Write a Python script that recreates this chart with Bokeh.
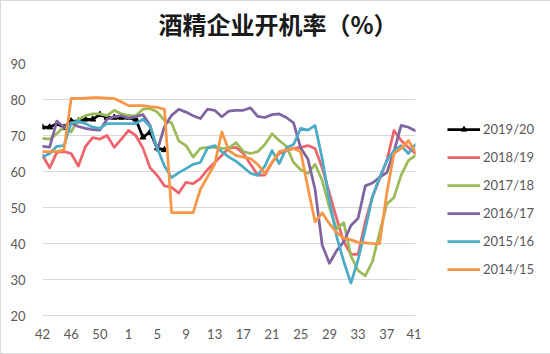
from bokeh.plotting import figure
from bokeh.layouts import row, column
from bokeh.models import Range1d, FixedTicker, Legend, LegendItem, Div
from bokeh.embed import file_html
from bokeh.resources import INLINE

title_text = "酒精企业开机率（%）"

weeks = ["42", "43", "44", "45", "46", "47", "48", "49", "50", "51", "52", "53",
         "1", "2", "3", "4", "5", "6", "7", "8", "9", "10", "11", "12", "13",
         "14", "15", "16", "17", "18", "19", "20", "21", "22", "23", "24", "25",
         "26", "27", "28", "29", "30", "31", "32", "33", "34", "35", "36", "37",
         "38", "39", "40", "41"]
tick_labels = ["42", "46", "50", "1", "5", "9", "13", "17", "21", "25", "29", "33", "37", "41"]
y_ticks = [20, 30, 40, 50, 60, 70, 80, 90]

s2019 = [72.3, 72.3, 73.3, 72.2, 74, 74, 74.5, 74.5, 75.8, 75, 75, 75, 75, 74.5,
         69.5, 71, 66.5, 66]

s2018 = [64.5, 61, 65.3, 65.5, 65, 61.5, 67, 69.4, 69, 70, 66.7, 69, 71.4, 70,
         66.5, 61, 58.9, 56, 55.6, 54, 57, 56.6, 58, 60.5, 62.5, 64.5, 66.5, 66.7,
         65, 62, 59, 59, 62.5, 65, 65.8, 66.4, 66.7, 67.2, 66.4, 61, 54, 47, 40.5,
         37, 37, 46, 53, 58, 63, 71.4, 68.6, 66.7, 65]

s2017 = [69.2, 69, 70.5, 72.5, 71, 74.5, 75.5, 76, 76, 75.5, 77, 76, 75.5, 75.5,
         77.3, 77.5, 76.5, 74.2, 73.5, 68.5, 67.2, 64, 66.4, 66.7, 66.7, 66.4, 66.5,
         68, 65.5, 65, 65.5, 67.5, 70.5, 68.6, 67, 62.5, 60.5, 59.5, 62, 57.5, 50,
         44, 45.8, 36.5, 32.5, 31, 35, 43, 51, 52.8, 59, 63, 64.5]

s2016 = [67, 66.8, 74, 72.2, 73.5, 72.5, 72, 71.6, 71.5, 74.5, 75.2, 75.5, 74.8,
         75.2, 75.8, 72.8, 65.8, 72.5, 75.6, 77.3, 76.5, 75.5, 74.7, 77.3, 77, 75.2,
         76.8, 77, 77, 77.7, 75.3, 75, 75.8, 76, 75, 73.5, 66.5, 63.5, 55, 39.5,
         34.5, 38, 40.5, 45, 47, 56, 56.8, 58.4, 59.7, 65.5, 72.8, 72.3, 71.3]

s2015 = [64, 65, 67, 67.2, 73.5, 74, 73.3, 72.3, 72, 73.3, 73.3, 73.3, 73.3, 73.3,
         74.5, 72.5, 66.5, 61.5, 58.3, 59.7, 60.8, 62, 62.5, 66.5, 67.2, 65.5, 64,
         62.8, 61.2, 59.5, 58.9, 61.5, 65.8, 62.2, 66.5, 67.5, 72, 71.5, 72.8, 63.5,
         52, 42, 35, 29, 35.5, 44, 53, 58.4, 63, 65.8, 67.2, 65, 67.5]

s2014 = [65.5, 65.5, 65.5, 66, 80.3, 80.3, 80.4, 80.5, 80.5, 80.4, 80.3, 79.3,
         78.3, 78.3, 78.3, 78, 77.8, 77.3, 48.6, 48.6, 48.6, 48.6, 55, 58.5, 62, 71,
         65.8, 64.4, 64, 63.6, 62, 59.5, 62.5, 65.5, 66, 66.4, 65.5, 55.5, 46, 48.5,
         45.5, 43, 41.5, 41, 40.3, 40.2, 40, 40, 54, 65, 66.4, 68.6, 65.5]

series_names = ["2019/20", "2018/19", "2017/18", "2016/17", "2015/16", "2014/15"]
series_values = [s2019, s2018, s2017, s2016, s2015, s2014]
colors = ["#000000", "#EE646C", "#9BBB59", "#8064A2", "#4BACC6", "#F79646"]

label_font = "Lato"
TITLE_H = 48

title_div = Div(text=title_text, width=548, height=TITLE_H, margin=(0, 0, 0, 0),
                styles={"font-family": "'Noto Sans CJK SC', sans-serif",
                        "font-size": "24px", "font-weight": "bold",
                        "color": "#1A1A1A", "text-align": "center",
                        "line-height": "46px", "width": "554px",
                        "background-color": "white"})

p = figure(width=420, height=352 - TITLE_H, output_backend="svg", toolbar_location=None,
           x_range=Range1d(0, len(weeks) - 1), y_range=Range1d(20, 90),
           min_border_left=41, min_border_right=6, min_border_top=62 - TITLE_H,
           min_border_bottom=38, margin=(0, 0, 0, 0))
p.outline_line_color = None
p.background_fill_color = "white"
p.border_fill_color = "white"

tick_pos = [weeks.index(t) if i < 3 else 12 + 4 * (i - 3) for i, t in enumerate(tick_labels)]
p.xaxis.ticker = FixedTicker(ticks=tick_pos)
p.xaxis.major_label_overrides = {i: weeks[i] for i in range(len(weeks))}
p.xaxis.axis_line_color = "#D9D9D9"
p.xaxis.major_tick_line_color = None
p.xaxis.minor_tick_line_color = None
p.xaxis.major_label_standoff = 7
p.xaxis.major_label_text_font = label_font
p.xaxis.major_label_text_font_size = "13px"
p.xaxis.major_label_text_color = "#595959"

p.yaxis.ticker = FixedTicker(ticks=y_ticks)
p.yaxis.axis_line_color = None
p.yaxis.major_tick_line_color = None
p.yaxis.minor_tick_line_color = None
p.yaxis.major_label_standoff = 11
p.yaxis.major_label_text_font = label_font
p.yaxis.major_label_text_font_size = "13px"
p.yaxis.major_label_text_color = "#595959"

p.xgrid.grid_line_color = None
p.ygrid.ticker = FixedTicker(ticks=y_ticks)
p.ygrid.grid_line_color = "#D9D9D9"

for name, vals, col in zip(series_names, series_values, colors):
    xs = list(range(len(vals)))
    p.line(xs, vals, line_color=col, line_width=2.75, line_join="round", line_cap="round")
    if name == "2019/20":
        p.scatter(xs, vals, marker="triangle", size=6, color=col)

# legend panel beside the plot; its renderers hold the same series but fall outside its view
lg = figure(width=128, height=352 - TITLE_H, output_backend="svg", toolbar_location=None,
            x_range=Range1d(1000, 1001), y_range=Range1d(1000, 1001),
            min_border_left=0, min_border_right=0, min_border_top=0, min_border_bottom=0,
            margin=(0, 0, 0, 0))
lg.axis.visible = False
lg.grid.visible = False
lg.outline_line_color = None
lg.background_fill_color = "white"
lg.border_fill_color = "white"

items = []
for name, vals, col in zip(series_names, series_values, colors):
    xs = list(range(len(vals)))
    rs = [lg.line(xs, vals, line_color=col, line_width=2.75)]
    if name == "2019/20":
        rs.append(lg.scatter(xs, vals, marker="triangle", size=6, color=col))
    items.append(LegendItem(label=name, renderers=rs))

legend = Legend(items=items, location=(26, 38))
legend.border_line_color = None
legend.background_fill_alpha = 0
legend.padding = 0
legend.margin = 0
legend.spacing = 12
legend.glyph_width = 33
legend.glyph_height = 14
legend.label_height = 14
legend.label_standoff = 3
legend.label_text_font = label_font
legend.label_text_font_size = "13px"
legend.label_text_color = "#595959"
lg.add_layout(legend, "center")

layout = column(title_div, row(p, lg, spacing=0), spacing=0,
                styles={"border": "1px solid #D9D9D9", "background-color": "white"})

open("out.html", "w").write(file_html(layout, INLINE))
